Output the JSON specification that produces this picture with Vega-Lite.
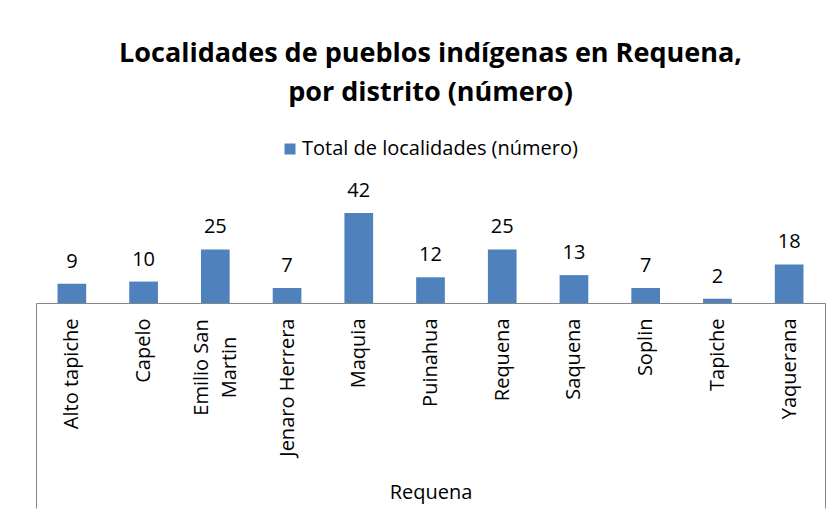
{
  "$schema": "https://vega.github.io/schema/vega-lite/v6.json",
  "width": 789,
  "height": 90,
  "autosize": {"type": "none"},
  "padding": {"left": 36, "right": 13, "top": 213, "bottom": 210},
  "background": "white",
  "title": {
    "text": ["Localidades de pueblos indígenas en Requena,", "por distrito (número)"],
    "anchor": "middle",
    "font": "Open Sans",
    "fontSize": 27,
    "fontWeight": "bold",
    "color": "#000000",
    "lineHeight": 39,
    "offset": 32
  },
  "data": {
    "values": [
      {"distrito": "Alto tapiche", "n": 9, "serie": "Total de localidades (número)"},
      {"distrito": "Capelo", "n": 10, "serie": "Total de localidades (número)"},
      {"distrito": "Emilio San Martin", "n": 25, "serie": "Total de localidades (número)"},
      {"distrito": "Jenaro Herrera", "n": 7, "serie": "Total de localidades (número)"},
      {"distrito": "Maquia", "n": 42, "serie": "Total de localidades (número)"},
      {"distrito": "Puinahua", "n": 12, "serie": "Total de localidades (número)"},
      {"distrito": "Requena", "n": 25, "serie": "Total de localidades (número)"},
      {"distrito": "Saquena", "n": 13, "serie": "Total de localidades (número)"},
      {"distrito": "Soplin", "n": 7, "serie": "Total de localidades (número)"},
      {"distrito": "Tapiche", "n": 2, "serie": "Total de localidades (número)"},
      {"distrito": "Yaquerana", "n": 18, "serie": "Total de localidades (número)"}
    ]
  },
  "encoding": {
    "x": {
      "field": "distrito",
      "type": "nominal",
      "sort": null,
      "scale": {"paddingInner": 0, "paddingOuter": 0},
      "axis": {
        "title": "Requena",
        "titleFont": "Open Sans",
        "titleFontSize": 20,
        "titleFontWeight": "normal",
        "titleColor": "#000000",
        "titleY": 189,
        "titleBaseline": "middle",
        "labelAngle": -90,
        "labelFont": "Open Sans",
        "labelFontSize": 20,
        "labelColor": "#000000",
        "labelPadding": {"condition": {"test": "datum.value == 'Emilio San Martin'", "value": -141}, "value": -190},
        "labelAlign": {"condition": {"test": "datum.value == 'Emilio San Martin'", "value": "center"}, "value": "right"},
        "labelOffset": {"condition": {"test": "datum.value == 'Emilio San Martin'", "value": -14}, "value": 0},
        "labelLineHeight": 28,
        "labelExpr": "datum.label == 'Emilio San Martin' ? ['Emilio San', 'Martin'] : datum.label",
        "domainColor": "#868686",
        "domainWidth": 1,
        "tickBand": "extent",
        "tickSize": 205,
        "tickWidth": 1,
        "tickColor": {"condition": {"test": "datum.value == 'Yaquerana' || datum.index < 0", "value": "#868686"}, "value": "transparent"}
      }
    },
    "y": {
      "field": "n",
      "type": "quantitative",
      "scale": {"domain": [0, 42], "nice": false},
      "axis": null
    }
  },
  "layer": [
    {
      "mark": {"type": "bar", "color": "#4F81BD", "width": {"band": 0.4}},
      "encoding": {
        "color": {
          "field": "serie",
          "type": "nominal",
          "scale": {"range": ["#4F81BD"]},
          "legend": {
            "title": null,
            "orient": "none",
            "legendX": 244,
            "legendY": -74,
            "padding": 0,
            "symbolType": "square",
            "symbolSize": 121,
            "symbolStrokeWidth": 0,
            "labelFont": "Open Sans",
            "labelFontSize": 20,
            "labelColor": "#000000",
            "labelOffset": 2,
            "labelLimit": 500
          }
        }
      }
    },
    {
      "mark": {"type": "text", "font": "Open Sans", "fontSize": 20, "color": "#000000", "baseline": "alphabetic", "dy": -16},
      "encoding": {"text": {"field": "n", "type": "quantitative"}}
    }
  ],
  "config": {"view": {"stroke": null}}
}
